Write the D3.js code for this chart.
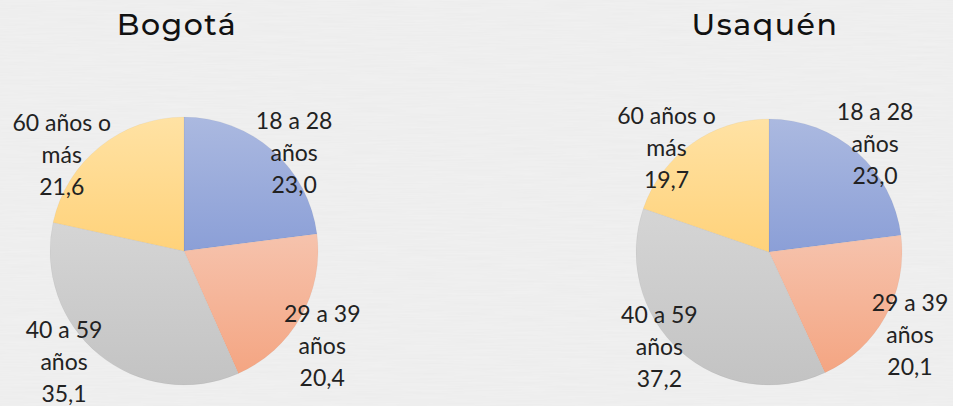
<!DOCTYPE html>
<html>
<head>
<meta charset="utf-8">
<script src="https://cdn.jsdelivr.net/npm/d3@7"></script>
<style>
  html, body { margin: 0; padding: 0; background: #f1f1f1; }
  svg { display: block; }
</style>
</head>
<body>
<div class="chart"></div>
<script>
// age groups and shares (%)
const categories = ["18 a 28 años", "29 a 39 años", "40 a 59 años", "60 años o más"];
const labelLines = [["18 a 28", "años"], ["29 a 39", "años"], ["40 a 59", "años"], ["60 años o", "más"]];
const bogotaValues = [23.0, 20.4, 35.1, 21.6];
const usaquenValues = [23.0, 20.1, 37.2, 19.7];
const titles = ["Bogotá", "Usaquén"];

// top / bottom colours for each slice gradient
const sliceColors = [
    ["#abb9e0", "#8b9fd7"],
    ["#f6c3ad", "#f4a582"],
    ["#d5d5d5", "#c3c3c3"],
    ["#ffe2a4", "#ffd27a"]
];

const width = 953, height = 406;

const svg = d3.select(".chart").append("svg")
    .attr("width", width)
    .attr("height", height);

const defs = svg.append("defs");

// faint paper texture
const paper = defs.append("filter").attr("id", "paper")
    .attr("x", 0).attr("y", 0).attr("width", "100%").attr("height", "100%");
paper.append("feTurbulence")
    .attr("type", "fractalNoise")
    .attr("baseFrequency", "0.02 0.6")
    .attr("numOctaves", 2)
    .attr("seed", 4);
paper.append("feColorMatrix")
    .attr("type", "matrix")
    .attr("values", "0 0 0 0 0.55  0 0 0 0 0.55  0 0 0 0 0.55  0 0 0 0.12 0");

svg.append("rect").attr("width", width).attr("height", height).attr("fill", "#f1f1f1");
svg.append("rect").attr("width", width).attr("height", height).attr("filter", "url(#paper)");

sliceColors.forEach(function (c, i) {
    const grad = defs.append("linearGradient")
        .attr("id", "grad" + i)
        .attr("x1", 0).attr("y1", 0).attr("x2", 0).attr("y2", 1);
    grad.append("stop").attr("offset", "0%").attr("stop-color", c[0]);
    grad.append("stop").attr("offset", "100%").attr("stop-color", c[1]);
});

// layout of the two pies; label placement = [angle shift (deg), radius factor]
const pies = [
    {title: titles[0], values: bogotaValues, cx: 184, cy: 251, r: 134, titleX: 177,
     labels: [[7, 1.10], [5, 1.25], [8, 1.22], [-13, 1.16]]},
    {title: titles[1], values: usaquenValues, cx: 769, cy: 252, r: 133, titleX: 765,
     labels: [[3, 1.14], [1.5, 1.23], [7, 1.09], [-9, 1.10]]}
];

const pie = d3.pie().sort(null).value(function (d) { return d; });

pies.forEach(function (p) {
    const g = svg.append("g").attr("transform", "translate(" + p.cx + "," + p.cy + ")");
    const arc = d3.arc().innerRadius(0).outerRadius(p.r);
    const arcs = pie(p.values);

    g.selectAll("path")
        .data(arcs)
        .enter().append("path")
        .attr("d", arc)
        .attr("fill", function (d, i) { return "url(#grad" + i + ")"; })
        .attr("stroke", "rgba(0,0,0,0.06)")
        .attr("stroke-width", 0.6);

    const lab = g.selectAll("text.lbl")
        .data(arcs)
        .enter().append("text")
        .attr("class", "lbl")
        .attr("text-anchor", "middle")
        .style("font-family", "Lato, 'Open Sans', sans-serif")
        .style("font-size", "23px")
        .attr("fill", "#222")
        .attr("transform", function (d, i) {
            const a = (d.startAngle + d.endAngle) / 2 + p.labels[i][0] * Math.PI / 180;
            const rr = p.r * p.labels[i][1];
            return "translate(" + (Math.sin(a) * rr) + "," + (-Math.cos(a) * rr) + ")";
        });

    lab.each(function (d, i) {
        const t = d3.select(this);
        const lines = labelLines[i].concat([d3.format(".1f")(d.value).replace(".", ",")]);
        lines.forEach(function (s, k) {
            t.append("tspan")
                .attr("x", 0)
                .attr("y", (k - 1) * 32 + 8)
                .text(s);
        });
    });

    svg.append("text")
        .attr("x", p.titleX)
        .attr("y", 35)
        .attr("text-anchor", "middle")
        .style("font-family", "Montserrat, Inter, 'Noto Sans', sans-serif")
        .style("font-size", "30px")
        .style("font-weight", 500)
        .style("letter-spacing", "1.5px")
        .attr("fill", "#111")
        .text(p.title);
});
</script>
</body>
</html>
